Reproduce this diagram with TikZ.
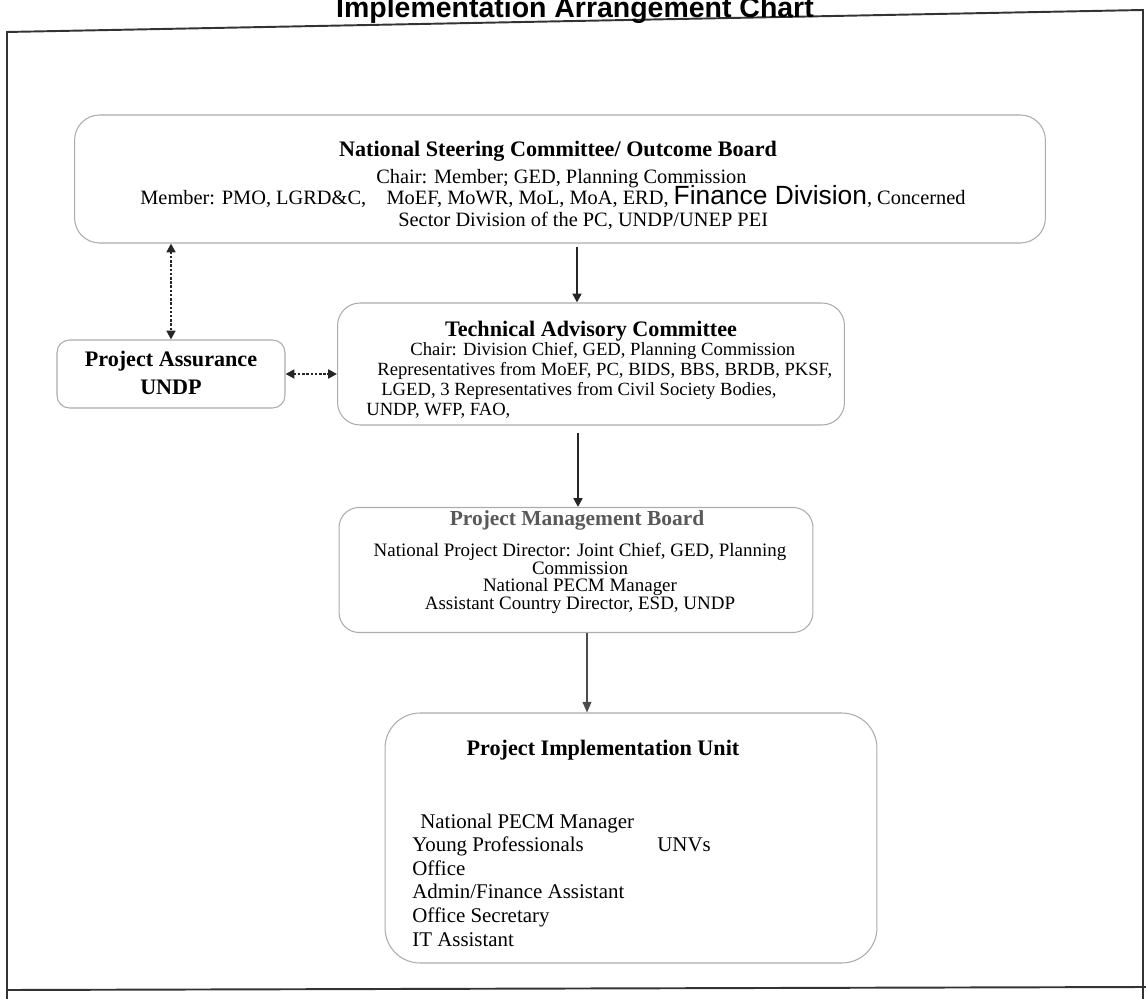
\documentclass[tikz,border=0pt]{standalone}
\usepackage{fontspec}
\setmainfont{Liberation Serif}
\newfontfamily\arialfont{Liberation Sans}
\usetikzlibrary{arrows.meta}

\tikzset{
  caja/.style={draw=gray!65, line width=0.6pt, fill=white},
  texto/.style={font=\fontsize{11.6}{13}\selectfont, inner sep=0pt, anchor=base},
  textoC/.style={texto, font=\fontsize{10.6}{12}\selectfont},
  textoP/.style={texto, font=\fontsize{11.9}{13}\selectfont},
  textoN/.style={texto, font=\fontsize{12.6}{14}\selectfont\bfseries},
  flecha/.style={line width=1.4pt, black!85, -{Triangle[length=5pt,width=5pt]}},
  flechaF/.style={line width=0.8pt, black!70, -{Triangle[length=6pt,width=5pt]}},
  punteada/.style={line width=1.4pt, densely dotted, black!85,
    {Triangle[length=5pt,width=5pt]}-{Triangle[length=5pt,width=5pt]}},
}

\begin{document}
\begin{tikzpicture}[x=0.02cm, y=-0.02cm]
  % Marco de la página (coordenadas en píxeles, y hacia abajo)
  \useasboundingbox (0,0) rectangle (1146,999);
  \draw[line width=1.1pt, black!80] (7,999) -- (7,32) -- (1143,10) -- (1143,999);
  \draw[line width=1.1pt, black!80] (7,990) -- (1146,987);

  % Título (cortado arriba)
  \node[font=\arialfont\bfseries\fontsize{16.2}{17}\selectfont, anchor=base, inner sep=0pt] (titulo) at (575,18) {Implementation Arrangement Chart};

  % Cajas
  \node[caja, rounded corners=0.5cm, minimum width=19.42cm, minimum height=2.56cm] (nsc) at (560,179) {};
  \node[caja, rounded corners=0.25cm, minimum width=4.56cm, minimum height=1.36cm] (pa) at (171,374) {};
  \node[caja, rounded corners=0.45cm, minimum width=10.14cm, minimum height=2.44cm] (tac) at (591,364) {};
  \node[caja, rounded corners=0.4cm, minimum width=9.48cm, minimum height=2.5cm] (pmb) at (576,570) {};
  \node[caja, rounded corners=0.7cm, minimum width=9.84cm, minimum height=5cm] (piu) at (631,838) {};

  % National Steering Committee
  \node[textoN] (nscT) at (558,157) {National Steering Committee/ Outcome Board};
  \node[texto, anchor=base west] (nscC) at (376,184) {Chair: Member; GED, Planning Commission};
  \node[texto, anchor=base west] (nscM) at (140,205) {Member: PMO, LGRD\&C,\quad MoEF, MoWR, MoL, MoA, ERD, {\arialfont\fontsize{15}{15}\selectfont Finance Division}, Concerned};
  \node[texto, anchor=base west] (nscS) at (398,227) {Sector Division of the PC, UNDP/UNEP PEI};

  % Project Assurance
  \node[textoN] (paT) at (171,367) {Project Assurance};
  \node[textoN] (paU) at (171,395) {UNDP};

  % Technical Advisory Committee
  \node[textoN] (tacT) at (591,337) {Technical Advisory Committee};
  \node[textoC, anchor=base west] (tacC) at (410,356) {Chair: Division Chief, GED, Planning Commission};
  \node[textoC, anchor=base west] (tacR) at (377,376) {Representatives from MoEF, PC, BIDS, BBS, BRDB, PKSF,};
  \node[textoC, anchor=base west] (tacL) at (381,396) {LGED, 3 Representatives from Civil Society Bodies,};
  \node[textoC, anchor=base west] (tacU) at (366,416) {UNDP, WFP, FAO,};

  % Project Management Board
  \node[textoN, text=black!65, font=\fontsize{12.2}{14}\selectfont\bfseries] (pmbT) at (577,526) {Project Management Board};
  \node[textoC, font=\fontsize{10.8}{12}\selectfont] (pmbD) at (580,557) {National Project Director: Joint Chief, GED, Planning};
  \node[textoC, font=\fontsize{10.8}{12}\selectfont] (pmbC) at (580,574.5) {Commission};
  \node[textoC, font=\fontsize{10.8}{12}\selectfont] (pmbM) at (580,592) {National PECM Manager};
  \node[textoC, font=\fontsize{10.8}{12}\selectfont] (pmbA) at (580,609.5) {Assistant Country Director, ESD, UNDP};

  % Project Implementation Unit
  \node[textoN] (piuT) at (603,755) {Project Implementation Unit};
  \node[textoP, anchor=base west] (piu1) at (420,828) {National PECM Manager};
  \node[textoP, anchor=base west] (piu2) at (412,851) {Young Professionals};
  \node[textoP, anchor=base west] (piu2b) at (657,851) {UNVs};
  \node[textoP, anchor=base west] (piu3) at (412,875) {Office};
  \node[textoP, anchor=base west] (piu4) at (412,898) {Admin/Finance Assistant};
  \node[textoP, anchor=base west] (piu5) at (412,922) {Office Secretary};
  \node[textoP, anchor=base west] (piu6) at (412,946) {IT Assistant};

  % Conectores
  \coordinate (ejeTAC) at (577,0);
  \coordinate (ejePMB) at (578,0);
  \coordinate (ejePIU) at (587,0);
  \draw[flecha, shorten <=2pt] (nsc.south -| ejeTAC) -- (tac.north -| ejeTAC);
  \draw[flecha, shorten <=4pt] (tac.south -| ejePMB) -- (pmb.north -| ejePMB);
  \draw[flechaF] (pmb.south -| ejePIU) -- (piu.north -| ejePIU);
  \draw[punteada] (nsc.south -| pa.north) -- (pa.north);
  \draw[punteada] (pa.east) -- (pa.east -| tac.west);
\end{tikzpicture}
\end{document}
